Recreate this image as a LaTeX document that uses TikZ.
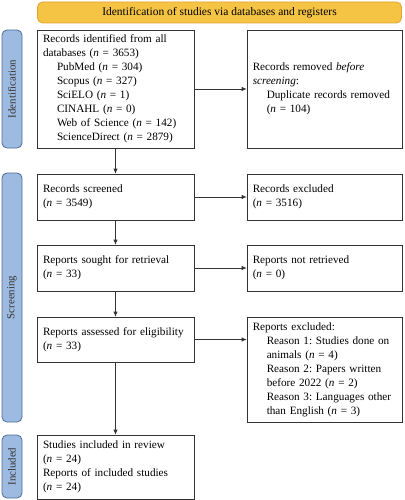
\documentclass[tikz,border=0pt]{standalone}
\usepackage{fontspec}
\setmainfont{Liberation Serif}
\usetikzlibrary{arrows.meta}
\definecolor{hdrfill}{HTML}{F6C445}
\definecolor{hdrdraw}{HTML}{E2A436}
\definecolor{sidefill}{HTML}{9DBAE0}
\definecolor{sidedraw}{HTML}{4F6D9C}
\definecolor{linegray}{HTML}{333333}
\newcommand{\nn}{\textit{n}}
\newcommand{\ind}{\hspace*{14pt}}
\frenchspacing
\begin{document}
\frenchspacing
\begin{tikzpicture}[x=1pt,y=-1pt,
  box/.style={draw=linegray,line width=0.7pt,fill=white,inner sep=0pt,
    align=left,font=\fontsize{11.2}{14}\selectfont\frenchspacing,anchor=center},
  sidebar/.style={draw=sidedraw,fill=sidefill,rounded corners=5pt,line width=0.8pt,
    minimum width=20pt,inner sep=0pt},
  sidelabel/.style={rotate=90,font=\fontsize{10.8}{12}\selectfont,text=black!80},
  arr/.style={draw=linegray,line width=0.7pt,-{Latex[length=5pt,width=4.5pt]}}]
\useasboundingbox (0,0) rectangle (404,500);
% header
\node[draw=hdrdraw,fill=hdrfill,rounded corners=5pt,line width=0.8pt,
  minimum width=364pt,minimum height=21pt,inner sep=0pt,
  font=\fontsize{11.5}{12}\selectfont] (hdr) at (219.5,12.5)
  {Identification of studies via databases and registers};
% side bars
\node[sidebar,minimum height=118pt] (sid) at (12,89) {};
\node[sidelabel] (sidl) at (sid.center) {Identification};
\node[sidebar,minimum height=249pt] (sscr) at (12,297.5) {};
\node[sidelabel] (sscrl) at (sscr.center) {Screening};
\node[sidebar,minimum height=63pt] (sinc) at (12,466.5) {};
\node[sidelabel] (sincl) at (sinc.center) {Included};
% left boxes
\node[box,minimum width=157pt,minimum height=118pt,text width=145pt] (b1) at (115.5,89)
 {Records identified from all\\
  databases (\nn{} = 3653)\\
  \ind PubMed (\nn{} = 304)\\
  \ind Scopus (\nn{} = 327)\\
  \ind SciELO (\nn{} = 1)\\
  \ind CINAHL (\nn{} = 0)\\
  \ind Web of Science (\nn{} = 142)\\
  \ind ScienceDirect (\nn{} = 2879)};
\node[box,minimum width=157pt,minimum height=46pt,text width=145pt] (b2) at (115.5,197)
 {Records screened\\(\nn{} = 3549)};
\node[box,minimum width=157pt,minimum height=46pt,text width=145pt] (b3) at (115.5,268)
 {Reports sought for retrieval\\(\nn{} = 33)};
\node[box,minimum width=157pt,minimum height=45pt,text width=145pt] (b4) at (115.5,339.5)
 {Reports assessed for eligibility\\(\nn{} = 33)};
\node[box,minimum width=157pt,minimum height=64pt,text width=145pt] (b5) at (115.5,467)
 {Studies included in review\\(\nn{} = 24)\\Reports of included studies\\(\nn{} = 24)};
% right boxes
\node[box,minimum width=155.5pt,minimum height=118pt,text width=144pt] (r1) at (324.75,89)
 {Records removed \textit{before}\\\textit{screening}:\\
  \ind Duplicate records removed\\
  \ind (\nn{} = 104)};
\node[box,minimum width=155.5pt,minimum height=46pt,text width=144pt] (r2) at (324.75,197)
 {Records excluded\\(\nn{} = 3516)};
\node[box,minimum width=155.5pt,minimum height=46pt,text width=144pt] (r3) at (324.75,268)
 {Reports not retrieved\\(\nn{} = 0)};
\node[box,minimum width=155.5pt,minimum height=105pt,text width=144pt] (r4) at (324.75,369.5)
 {Reports excluded:\\
  \ind Reason 1: Studies done on\\
  \ind animals (\nn{} = 4)\\
  \ind Reason 2: Papers written\\
  \ind before 2022 (\nn{} = 2)\\
  \ind Reason 3: Languages other\\
  \ind than English (\nn{} = 3)};
% arrows
\draw[arr] (b1) -- (r1);
\draw[arr] (b2) -- (r2);
\draw[arr] (b3) -- (r3);
\draw[arr] (b4.east) -- (b4.east -| r4.west);
\draw[arr] (b1) -- (b2);
\draw[arr] (b2) -- (b3);
\draw[arr] (b3) -- (b4);
\draw[arr] (b4) -- (b5);
\end{tikzpicture}
\end{document}
